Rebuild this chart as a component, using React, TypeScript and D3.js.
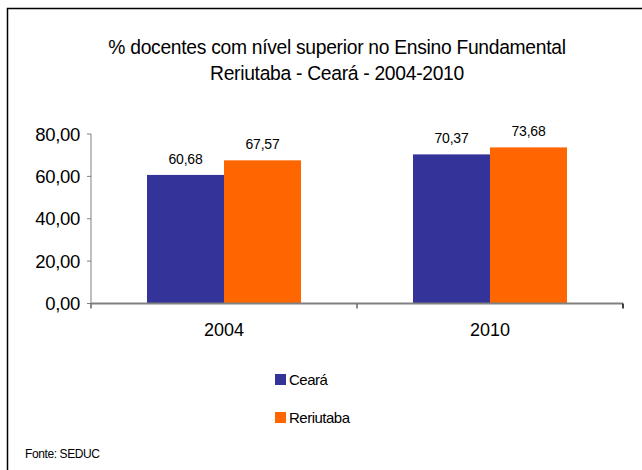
import React from "react";
import * as d3 from "d3";

const categories = ["2004", "2010"];
const seriesNames = ["Ceará", "Reriutaba"];
const cearaValues = [60.68, 70.37];
const reriutabaValues = [67.57, 73.68];
const seriesColors = ["#333399", "#FF6600"];
const yTicks = [0, 20, 40, 60, 80];
const titleLines = ["% docentes com nível  superior no Ensino Fundamental", "Reriutaba - Ceará - 2004-2010"];
const sourceText = "Fonte: SEDUC";

const W = 642;
const H = 470;
const FONT = "'Liberation Sans', Arial, sans-serif";

const fmt = (v: number) => v.toFixed(2).replace(".", ",");

export default function App() {
  const x0 = d3.scaleBand<string>().domain(categories).range([91, 623]).paddingInner(0).paddingOuter(0);
  const inner = d3.scaleBand<string>().domain(seriesNames).range([0, 154]);
  const y = d3.scaleLinear().domain([0, 80]).range([303.5, 134]);
  const series = [cearaValues, reriutabaValues];

  return (
    <svg width={W} height={H} style={{ position: "fixed", left: 0, top: 0, background: "#fff" }} fontFamily={FONT}>
      <rect x={0} y={0} width={W} height={H} fill="#fff" />
      <path d={`M7.5,${H} V8.5 H${W}`} fill="none" stroke="#000" strokeWidth={1.5} />
      {titleLines.map((t, i) => (
        <text key={i} x={337} y={54 + i * 26} textAnchor="middle" fontSize={19.3} fill="#000" letterSpacing={-0.3}>
          {t}
        </text>
      ))}
      {/* y axis */}
      <line x1={91} x2={91} y1={y(80)} y2={y(0)} stroke="#808080" strokeWidth={1} />
      {yTicks.map((t) => (
        <g key={t}>
          <line x1={87} x2={91} y1={y(t)} y2={y(t)} stroke="#808080" />
          <text x={80} y={y(t) + 6.5} textAnchor="end" fontSize={18.5} fill="#000" letterSpacing={-0.3}>
            {fmt(t)}
          </text>
        </g>
      ))}
      {/* bars */}
      {categories.map((c, ci) => {
        const gx = (x0(c) as number) + (x0.bandwidth() - 154) / 2;
        return (
          <g key={c}>
            {seriesNames.map((s, si) => {
              const v = series[si][ci];
              const bx = gx + (inner(s) as number);
              return (
                <g key={s}>
                  <rect x={bx} y={y(v)} width={inner.bandwidth()} height={y(0) - y(v)} fill={seriesColors[si]} />
                  <text x={bx + inner.bandwidth() / 2} y={y(v) - 11} textAnchor="middle" fontSize={14} fill="#000" letterSpacing={-0.2}>
                    {fmt(v)}
                  </text>
                </g>
              );
            })}
            <text x={(x0(c) as number) + x0.bandwidth() / 2} y={335.5} textAnchor="middle" fontSize={18} fill="#000">
              {c}
            </text>
          </g>
        );
      })}
      {/* x axis */}
      <line x1={91} x2={623} y1={y(0)} y2={y(0)} stroke="#808080" strokeWidth={2} />
      {[...categories.map((c) => x0(c) as number), 623].map((tx, i) => (
        <line key={i} x1={tx} x2={tx} y1={y(0)} y2={y(0) + 5} stroke={i === 2 ? "#000" : "#666"} strokeWidth={1.5} />
      ))}
      {/* legend */}
      {seriesNames.map((s, i) => (
        <g key={s}>
          <rect x={275} y={374 + i * 38} width={11} height={11} fill={seriesColors[i]} />
          <text x={289} y={385 + i * 38} fontSize={15} fill="#000" letterSpacing={-0.5}>
            {s}
          </text>
        </g>
      ))}
      <text x={25} y={458} fontSize={12} fill="#000" letterSpacing={-0.4}>
        {sourceText}
      </text>
    </svg>
  );
}
